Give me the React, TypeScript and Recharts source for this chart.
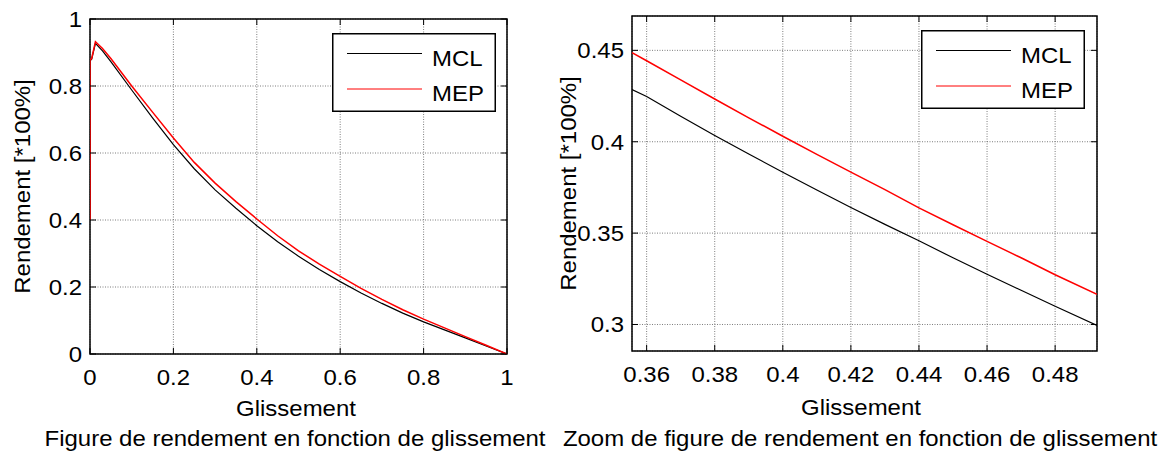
import React from 'react';
import { LineChart, Line, XAxis, YAxis, CartesianGrid, ReferenceArea, Legend, Label } from 'recharts';

// Full range plot (slip 0..1)
const slipMain = [0, 0, 0.004, 0.013, 0.03, 0.05, 0.1, 0.15, 0.2, 0.25, 0.3, 0.35, 0.4, 0.45, 0.5, 0.55, 0.6, 0.65, 0.7, 0.75, 0.8, 0.85, 0.9, 0.95, 1];
const mclMain = [0.4, 0.875, 0.88, 0.927, 0.905, 0.873, 0.788, 0.705, 0.625, 0.553, 0.49, 0.435, 0.383, 0.335, 0.292, 0.252, 0.216, 0.182, 0.151, 0.122, 0.096, 0.072, 0.048, 0.024, 0];
const mepMain = [0.4, 0.878, 0.882, 0.932, 0.912, 0.882, 0.8, 0.722, 0.645, 0.572, 0.51, 0.455, 0.403, 0.353, 0.308, 0.268, 0.232, 0.196, 0.163, 0.132, 0.104, 0.078, 0.052, 0.026, 0];
const ticksMain = [0, 0.2, 0.4, 0.6, 0.8, 1];

// Zoomed plot
const slipZoom = [0.3557, 0.36, 0.37, 0.38, 0.39, 0.4, 0.41, 0.42, 0.43, 0.44, 0.45, 0.46, 0.47, 0.48, 0.4923];
const mclZoom = [0.4286, 0.4248, 0.414, 0.4034, 0.3933, 0.3833, 0.3736, 0.364, 0.3548, 0.3458, 0.3365, 0.3275, 0.3187, 0.31, 0.2995];
const mepZoom = [0.4487, 0.4443, 0.4338, 0.4234, 0.4131, 0.403, 0.3931, 0.3834, 0.3738, 0.3638, 0.3546, 0.3455, 0.3365, 0.3272, 0.3165];
const xTicksZoom = [0.36, 0.38, 0.4, 0.42, 0.44, 0.46, 0.48];
const yTicksZoom = [0.3, 0.35, 0.4, 0.45];

const seriesNames = ['MCL', 'MEP'];
const xTitle = 'Glissement';
const yTitle = 'Rendement [*100%]';
const captions = [
  'Figure de rendement en fonction de glissement',
  'Zoom de figure de rendement en fonction de glissement',
];

const FONT = "'Liberation Sans', Arial, Helvetica, sans-serif";
const FS = 22;
const SX = 1.09; // source text is slightly stretched horizontally
const H = 453;

const fmt = (v: number) => String(Number(v.toFixed(2)));
const toPoints = (xs: number[], ys: number[]) => xs.map((x, i) => ({ x, y: ys[i] }));

const Txt = ({ x, y, anchor = 'middle', rotate = 0, children }: any) => (
  <text
    transform={`translate(${x},${y}) rotate(${rotate}) scale(${SX},1)`}
    textAnchor={anchor}
    fontFamily={FONT}
    fontSize={FS}
    fill="#000"
  >
    {children}
  </text>
);

const LegendBox = ({ payload }: any) => (
  <svg width={164} height={79} style={{ display: 'block' }}>
    <rect x={0.75} y={0.75} width={162.5} height={77.5} fill="#fff" stroke="#000" strokeWidth={1.5} />
    {(payload || []).map((p: any, i: number) => (
      <g key={p.value}>
        <line x1={15} x2={90} y1={20.5 + i * 35.5} y2={20.5 + i * 35.5} stroke={p.color} strokeWidth={1} />
        <Txt x={100} y={32.5 + i * 35.5} anchor="start">{p.value}</Txt>
      </g>
    ))}
  </svg>
);

interface PanelProps {
  left: number;
  width: number;
  plot: { l: number; r: number; t: number; b: number };
  xDomain: [number, number];
  yDomain: [number, number];
  xTicks: number[];
  yTicks: number[];
  mcl: { x: number; y: number }[];
  mep: { x: number; y: number }[];
  caption: string;
  xTitleX: number;
  xTitleY: number;
  captionX: number;
  yTitleX: number;
  legendPos: { left: number; top: number };
}

const Panel = (p: PanelProps) => {
  const { l, r, t, b } = p.plot;
  const axisH = 40;

  const xTick = (props: any) => {
    const { x, y, payload } = props;
    return (
      <g>
        <line x1={x} y1={y} x2={x} y2={y - 6} stroke="#000" />
        <line x1={x} y1={t} x2={x} y2={t + 6} stroke="#000" />
        <Txt x={x} y={y + 31}>{fmt(payload.value)}</Txt>
      </g>
    );
  };

  const yTick = (props: any) => {
    const { x, y, payload } = props;
    return (
      <g>
        <line x1={x} y1={y} x2={x + 6} y2={y} stroke="#000" />
        <line x1={r} y1={y} x2={r - 6} y2={y} stroke="#000" />
        <Txt x={x - 8} y={y + 8} anchor="end">{fmt(payload.value)}</Txt>
      </g>
    );
  };

  return (
    <div style={{ position: 'absolute', left: p.left, top: 0 }}>
      <LineChart
        width={p.width}
        height={H}
        margin={{ top: t, right: p.width - r, bottom: H - b - axisH, left: 0 }}
      >
        <CartesianGrid stroke="#5c5c5c" strokeDasharray="1 1.5" strokeWidth={0.8} />
        <ReferenceArea
          x1={p.xDomain[0]}
          x2={p.xDomain[1]}
          y1={p.yDomain[0]}
          y2={p.yDomain[1]}
          fill="none"
          stroke="#000"
          strokeWidth={1.5}
          ifOverflow="visible"
        />
        <XAxis
          type="number"
          dataKey="x"
          domain={p.xDomain}
          ticks={p.xTicks}
          allowDataOverflow
          height={axisH}
          axisLine={false}
          tickLine={false}
          tickSize={0}
          tickMargin={0}
          tick={xTick}
          interval={0}
        >
          <Label
            content={() => (
              <g>
                <Txt x={p.xTitleX} y={p.xTitleY}>{xTitle}</Txt>
                <Txt x={p.captionX} y={445.5}>{p.caption}</Txt>
              </g>
            )}
          />
        </XAxis>
        <YAxis
          type="number"
          domain={p.yDomain}
          ticks={p.yTicks}
          allowDataOverflow
          width={l}
          axisLine={false}
          tickLine={false}
          tickSize={0}
          tickMargin={0}
          tick={yTick}
          interval={0}
        >
          <Label content={() => <Txt x={p.yTitleX} y={(t + b) / 2} rotate={-90}>{yTitle}</Txt>} />
        </YAxis>
        <Line data={p.mcl} dataKey="y" name={seriesNames[0]} type="linear" stroke="#000" strokeWidth={1.2} dot={false} isAnimationActive={false} />
        <Line data={p.mep} dataKey="y" name={seriesNames[1]} type="linear" stroke="#ff0000" strokeWidth={1.5} dot={false} isAnimationActive={false} />
        <Legend
          layout="vertical"
          align="center"
          verticalAlign="middle"
          content={<LegendBox />}
          wrapperStyle={{ left: p.legendPos.left, top: p.legendPos.top, right: 'auto', bottom: 'auto', width: 164, height: 79 }}
        />
      </LineChart>
    </div>
  );
};

export default function App() {
  return (
    <div style={{ position: 'absolute', left: 0, top: 0, width: 1164, height: H, background: '#fff', overflow: 'hidden' }}>
      <Panel
        left={0}
        width={560}
        plot={{ l: 90, r: 507, t: 19, b: 354 }}
        xDomain={[0, 1]}
        yDomain={[0, 1]}
        xTicks={ticksMain}
        yTicks={ticksMain}
        mcl={toPoints(slipMain, mclMain)}
        mep={toPoints(slipMain, mepMain)}
        caption={captions[0]}
        xTitleX={296}
        xTitleY={416}
        captionX={295}
        yTitleX={30}
        legendPos={{ left: 332, top: 33 }}
      />
      <Panel
        left={540}
        width={624}
        plot={{ l: 92, r: 557, t: 16, b: 351 }}
        xDomain={[0.3557, 0.4923]}
        yDomain={[0.2855, 0.4688]}
        xTicks={xTicksZoom}
        yTicks={yTicksZoom}
        mcl={toPoints(slipZoom, mclZoom)}
        mep={toPoints(slipZoom, mepZoom)}
        caption={captions[1]}
        xTitleX={321}
        xTitleY={415}
        captionX={320}
        yTitleX={35.5}
        legendPos={{ left: 381, top: 30 }}
      />
    </div>
  );
}
